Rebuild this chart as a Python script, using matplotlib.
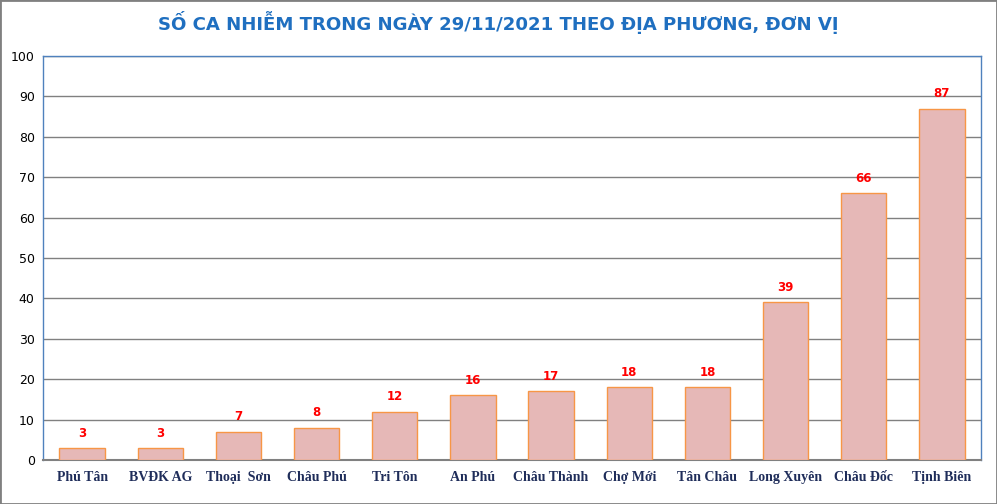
import matplotlib.pyplot as plt
from matplotlib.patches import Rectangle

units = ["Phú Tân", "BVĐK AG", "Thoại  Sơn", "Châu Phú", "Tri Tôn", "An Phú",
         "Châu Thành", "Chợ Mới", "Tân Châu", "Long Xuyên", "Châu Đốc", "Tịnh Biên"]
cases = [3, 3, 7, 8, 12, 16, 17, 18, 18, 39, 66, 87]
yticks = list(range(0, 101, 10))

fig = plt.figure(figsize=(9.97, 5.04), dpi=100)
ax = fig.add_axes([43 / 997, 1 - 460 / 504, 938 / 997, 404 / 504])

x = range(len(units))
ax.bar(x, cases, width=0.58, color="#E6B8B7", edgecolor="#F79646", linewidth=1.0, zorder=3)
for i, v in enumerate(cases):
    ax.annotate(str(v), (i, v), xytext=(0, 6), textcoords="offset points",
                ha="center", va="bottom", color="red", fontsize=8.5, fontweight="bold",
                family="DejaVu Sans")

ax.set_xlim(-0.5, len(units) - 0.5)
ax.set_ylim(0, 100)
ax.set_yticks(yticks)
ax.set_yticklabels([str(t) for t in yticks], fontsize=9, family="DejaVu Sans")
ax.set_xticks(list(x))
ax.set_xticklabels(units, fontsize=10, fontweight="bold", family="Liberation Serif",
                   color="#1F2D5A")
ax.tick_params(axis="x", length=0, pad=8)
ax.tick_params(axis="y", length=0, pad=6)
ax.grid(axis="y", color="#808080", linewidth=1.0, zorder=0)

for side in ["left", "top", "right"]:
    ax.spines[side].set_color("#4F81BD")
    ax.spines[side].set_linewidth(1.0)
ax.spines["bottom"].set_color("#808080")
ax.spines["bottom"].set_linewidth(1.5)

fig.text(0.5, 1 - 23 / 504, "SỐ CA NHIỄM TRONG NGÀY 29/11/2021 THEO ĐỊA PHƯƠNG, ĐƠN VỊ",
         ha="center", va="center", fontsize=13.1, fontweight="bold", color="#1F6FC0",
         family="DejaVu Sans")

fig.patches.append(Rectangle((0, 0), 1, 1, transform=fig.transFigure, fill=False,
                             edgecolor="#808080", linewidth=2))

fig.savefig("out.png", dpi=100)
